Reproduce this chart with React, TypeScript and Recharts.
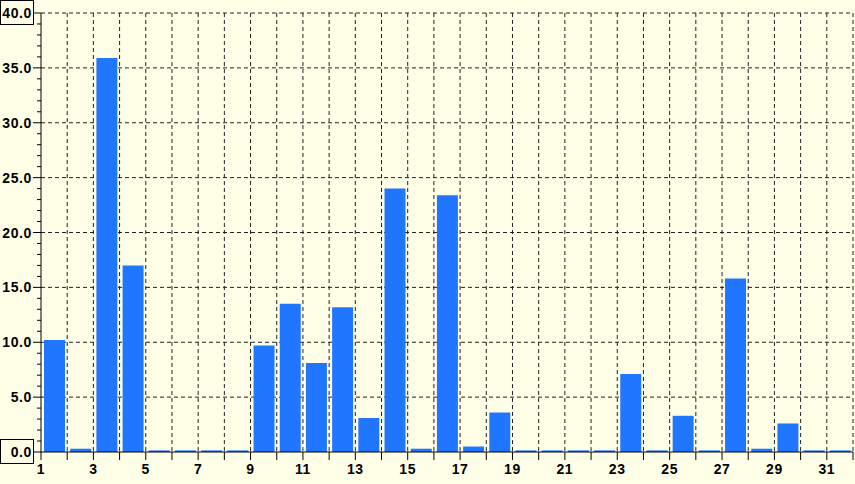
import React from 'react';
import { BarChart, Bar, XAxis, YAxis, CartesianGrid } from 'recharts';

// one bar per day of the month
const days = [1, 2, 3, 4, 5, 6, 7, 8, 9, 10, 11, 12, 13, 14, 15, 16, 17, 18, 19, 20, 21, 22, 23, 24, 25, 26, 27, 28, 29, 30, 31];
const values = [10.2, 0.3, 35.9, 17.0, 0.15, 0.15, 0.15, 0.15, 9.7, 13.5, 8.1, 13.2, 3.1, 24.0, 0.3, 23.4, 0.5, 3.6, 0.15, 0.15, 0.15, 0.15, 7.1, 0.15, 3.3, 0.15, 15.8, 0.3, 2.6, 0.15, 0.15];

const xTicks = [1, 2, 3, 4, 5, 6, 7, 8, 9, 10, 11, 12, 13, 14, 15, 16, 17, 18, 19, 20, 21, 22, 23, 24, 25, 26, 27, 28, 29, 30, 31, 32];
const yTicks = [0, 1, 2, 3, 4, 5, 6, 7, 8, 9, 10, 11, 12, 13, 14, 15, 16, 17, 18, 19, 20, 21, 22, 23, 24, 25, 26, 27, 28, 29, 30, 31, 32, 33, 34, 35, 36, 37, 38, 39, 40];
const yMajor = [5, 10, 15, 20, 25, 30, 35, 40];

// bars sit between day n and day n+1
const data = days.map((d, i) => ({ pos: d + 0.5, value: values[i] }));

const labelStyle = {
  fontFamily: '"Liberation Sans", Arial, sans-serif',
  fontWeight: 'bold' as const,
  fontSize: 14,
  letterSpacing: 0.6,
  fill: '#000',
};

const YTick = (props: any) => {
  const { x, y, payload } = props;
  const v = payload.value;
  const major = v % 5 === 0;
  return (
    <g>
      <line x1={x - (major ? 8 : 4)} x2={x} y1={y} y2={y} stroke="#000" />
      {(v === 0 || v === 40) && (
        <rect x={0.5} y={y - 12.5} width={33} height={24} fill="none" stroke="#000" />
      )}
      {major && (
        <text x={x - 9} y={y + 5} textAnchor="end" style={labelStyle}>
          {v.toFixed(1)}
        </text>
      )}
    </g>
  );
};

const XTick = (props: any) => {
  const { x, y, payload } = props;
  const v = payload.value;
  return (
    <g>
      <line x1={x} x2={x} y1={y} y2={y + 8} stroke="#000" />
      {v % 2 === 1 && v < 32 && (
        <text x={x} y={y + 22} textAnchor="middle" style={labelStyle}>
          {v}
        </text>
      )}
    </g>
  );
};

export default function App() {
  return (
    <div style={{ position: 'absolute', left: 0, top: 0, width: 855, height: 484, background: '#FFFFE8' }}>
      <BarChart width={855} height={484} data={data} margin={{ top: 13, right: 2, bottom: 0, left: 0 }}>
        <CartesianGrid
          stroke="#222"
          strokeDasharray="4 3"
          horizontalValues={yMajor}
          verticalValues={xTicks.slice(1)}
        />
        <XAxis
          type="number"
          dataKey="pos"
          domain={[1, 32]}
          ticks={xTicks}
          interval={0}
          height={32}
          tickSize={0}
          tickMargin={0}
          tickLine={false}
          axisLine={{ stroke: '#000' }}
          tick={<XTick />}
        />
        <YAxis
          type="number"
          domain={[0, 40]}
          ticks={yTicks}
          interval={0}
          width={41}
          tickSize={0}
          tickMargin={0}
          tickLine={false}
          axisLine={{ stroke: '#000' }}
          tick={<YTick />}
        />
        <Bar dataKey="value" fill="#2176FF" barSize={21} isAnimationActive={false} />
      </BarChart>
    </div>
  );
}
